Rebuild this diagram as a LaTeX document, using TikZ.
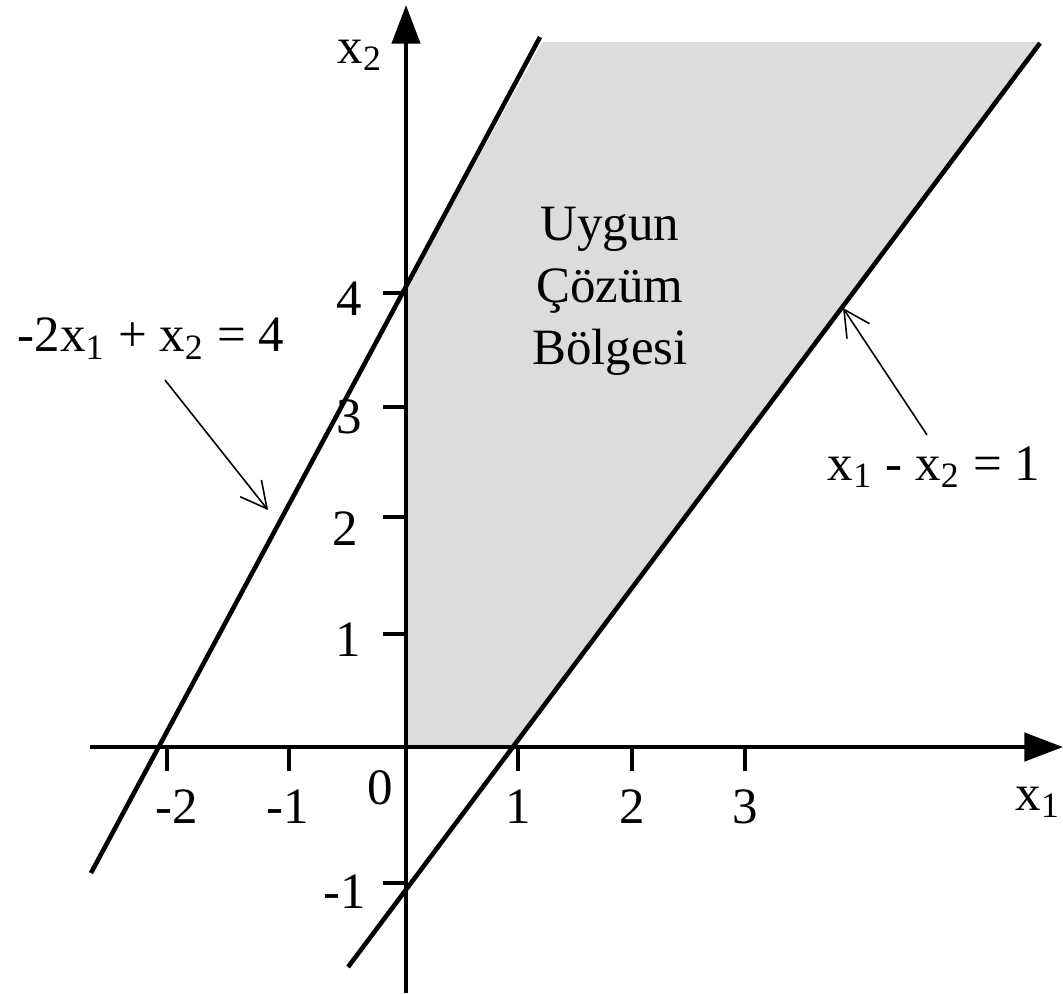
\documentclass[tikz,border=0pt]{standalone}
\usepackage{fontspec}
\setmainfont{Liberation Serif}
\usetikzlibrary{arrows.meta,positioning}
\definecolor{regionGray}{HTML}{DCDCDC}
\tikzset{
    axis/.style={line width=1.2pt, -{Triangle[length=11pt,width=8pt]}},
    bound/.style={line width=1.3pt},
    tickmark/.style={line width=1.2pt},
    pointer/.style={line width=0.45pt, -{Straight Barb[length=7.4pt,width=7.7pt]}},
    feasible/.style={fill=regionGray, draw=none},
    lbl/.style={font=\fontsize{14.5}{17.6}\selectfont, inner sep=0pt}
}

\begin{document}
\begin{tikzpicture}[x=1.13cm, y=1.13cm]
    \useasboundingbox (-3.593,-2.177) rectangle (5.814,6.611);

    % Coordinates
    \coordinate (xs) at (-2.796,0);
    \coordinate (xe) at (5.814,0);
    \coordinate (ys) at (0,-2.177);
    \coordinate (ye) at (0,6.566);
    \coordinate (c1a) at (-2.788,-1.115);
    \coordinate (c1b) at (1.186,6.283);
    \coordinate (c2a) at (-0.513,-1.947);
    \coordinate (c2b) at (5.611,6.230);

    % Feasible region
    \fill[feasible] (0,0) -- (0,4.044) -- (1.204,6.239) -- (5.611,6.239) -- (0.945,0) -- cycle;

    % Axes
    \draw[axis] (xs) -- (xe);
    \draw[axis] (ys) -- (ye);

    % Ticks
    \foreach \p/\q/\l [count=\i] in {-2.115/-2.03/-2, -1.035/-1.05/-1, 0.99/0.99/1, 2/2/2, 3/3/3}{
        \draw[tickmark] (\p,0) -- (\p,-0.21);
        \node[lbl] (xlab\i) at (\q,-0.53) {\l};
    }
    \foreach \p/\q/\r/\l [count=\i] in {4.018/-0.50/3.97/4, 3.009/-0.50/2.92/3, 2.035/-0.54/1.93/2, 1.0/-0.51/0.95/1, -1.204/-0.54/-1.28/-1}{
        \draw[tickmark] (-0.2,\p) -- (0,\p);
        \node[lbl] (ylab\i) at (\q,\r) {\l};
    }
    \node[lbl] (zero) at (-0.23,-0.36) {0};

    % Constraint lines
    \draw[bound] (c1a) -- (c1b);
    \draw[bound] (c2a) -- (c2b);

    % Labels
    \node[lbl, anchor=base west] (xtwo) at (-0.611,6.053) {x\textsubscript{2}};
    \node[lbl, anchor=base west] (xone) at (5.389,-0.558) {x\textsubscript{1}};
    \node[lbl, align=center] (region) at (1.805,4.031) {Uygun\\Çözüm\\Bölgesi};
    \node[lbl, anchor=base west] (eqa) at (-3.442,3.496) {-2x\textsubscript{1} + x\textsubscript{2} = 4};
    \node[lbl, anchor=base west] (eqb) at (3.726,2.363) {x\textsubscript{1} - x\textsubscript{2} = 1};

    % Arrows
    \coordinate (eqatail) at (-2.133,3.248);
    \coordinate (eqatip) at (-1.221,2.097);
    \coordinate (eqbtail) at (4.611,2.761);
    \coordinate (eqbtip) at (3.867,3.885);
    \draw[pointer] (eqatail) -- (eqatip);
    \draw[pointer] (eqbtail) -- (eqbtip);

\end{tikzpicture}
\end{document}
